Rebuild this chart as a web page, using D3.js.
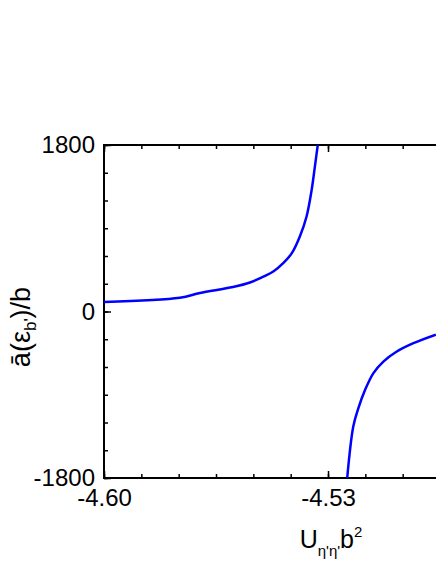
<!DOCTYPE html>
<html>
<head>
<meta charset="utf-8">
<script src="https://cdn.jsdelivr.net/npm/d3@7"></script>
<style>
  body { margin: 0; background: #fff; }
  text { font-family: "Liberation Sans", Arial, sans-serif; fill: #000; }
</style>
</head>
<body>
<svg id="chart" width="436" height="564"></svg>
<script>
// branch left of the pole (goes to +inf)
var upperX = [-4.6000, -4.5763, -4.5700, -4.5597, -4.5544, -4.5502, -4.5471, -4.5440, -4.5413, -4.5388, -4.5367, -4.5351, -4.5341, -4.5332];
var upperY = [102, 148, 199, 264, 313, 378, 432, 523, 631, 811, 1027, 1316, 1567, 1800];
// branch right of the pole (comes from -inf)
var lowerX = [-4.5240, -4.5221, -4.5205, -4.5184, -4.5158, -4.5127, -4.5085, -4.5033, -4.4963];
var lowerY = [-1800, -1243, -1044, -846, -666, -541, -432, -342, -250];

var xMajor = [-4.60, -4.53, -4.46];
var xMajorLabels = ["-4.60", "-4.53", ""];   // -4.46 sits past the window edge
var yMajor = [-1800, 0, 1800];
var yMajorLabels = ["-1800", "0", "1800"];

var svg = d3.select("#chart");
var mLeft = 104, mTop = 145, mBottom = 478, mRight = 552;

var x = d3.scaleLinear().domain([-4.60, -4.46]).range([mLeft, mRight]);
var y = d3.scaleLinear().domain([-1800, 1800]).range([mBottom, mTop]);

var xMinor = d3.range(0, 13).map(function(i) { return -4.60 + i * 0.07 / 6; });
var yMinor = d3.range(-1800, 1801, 300);

svg.append("defs").append("clipPath").attr("id", "plotclip")
  .append("rect").attr("x", mLeft).attr("y", mTop)
  .attr("width", mRight - mLeft).attr("height", mBottom - mTop);

// minor ticks, all pointing inside
function minor(axis, pos, vals) {
  return svg.append("g").attr("transform", pos)
    .call(axis.tickValues(vals).tickSize(-4).tickFormat(""));
}
minor(d3.axisBottom(x), "translate(0," + mBottom + ")", xMinor);
minor(d3.axisTop(x), "translate(0," + mTop + ")", xMinor);
minor(d3.axisLeft(y), "translate(" + mLeft + ",0)", yMinor);
minor(d3.axisRight(y), "translate(" + mRight + ",0)", yMinor);

var xb = svg.append("g").attr("transform", "translate(0," + mBottom + ")")
  .call(d3.axisBottom(x).tickValues(xMajor).tickSize(-7).tickPadding(11)
    .tickFormat(function(d, i) { return xMajorLabels[i]; }));
svg.append("g").attr("transform", "translate(0," + mTop + ")")
  .call(d3.axisTop(x).tickValues(xMajor).tickSize(-7).tickFormat(""));
var yl = svg.append("g").attr("transform", "translate(" + mLeft + ",0)")
  .call(d3.axisLeft(y).tickValues(yMajor).tickSize(-7).tickPadding(9)
    .tickFormat(function(d, i) { return yMajorLabels[i]; }));
svg.append("g").attr("transform", "translate(" + mRight + ",0)")
  .call(d3.axisRight(y).tickValues(yMajor).tickSize(-7).tickFormat(""));

svg.selectAll(".domain").remove();
svg.selectAll(".tick line").attr("stroke", "#000").attr("stroke-width", 1.5);
xb.selectAll("text").style("font-size", "24px").attr("font-family", null);
yl.selectAll("text").style("font-size", "24px").attr("font-family", null);

// frame
svg.append("rect")
  .attr("x", mLeft).attr("y", mTop)
  .attr("width", mRight - mLeft).attr("height", mBottom - mTop)
  .attr("fill", "none").attr("stroke", "#000").attr("stroke-width", 2);

var line = d3.line()
  .x(function(d) { return x(d[0]); })
  .y(function(d) { return y(d[1]); })
  .curve(d3.curveCatmullRom.alpha(0.5));

var plot = svg.append("g").attr("clip-path", "url(#plotclip)");
[[upperX, upperY], [lowerX, lowerY]].forEach(function(b) {
  plot.append("path")
    .datum(d3.zip(b[0], b[1]))
    .attr("fill", "none")
    .attr("stroke", "#0000ff")
    .attr("stroke-width", 2.5)
    .attr("d", line);
});

// x title: U_{η'η'} b^2
var xt = svg.append("text")
  .attr("x", 331).attr("y", 548)
  .attr("text-anchor", "middle")
  .style("font-size", "25px");
xt.append("tspan").text("U");
xt.append("tspan").attr("dy", 8).style("font-size", "15px").text("η'η'");
xt.append("tspan").attr("dy", -8).text("b");
xt.append("tspan").attr("dy", -11).style("font-size", "15px").text("2");

// y title: ā(ε_b')/b
var yt = svg.append("text")
  .attr("transform", "translate(30,327) rotate(-90)")
  .attr("text-anchor", "middle")
  .style("font-size", "27px");
yt.append("tspan").text("ā(ε");
yt.append("tspan").attr("dy", 6).style("font-size", "17px").text("b'");
yt.append("tspan").attr("dy", -6).text(")/b");
</script>
</body>
</html>
